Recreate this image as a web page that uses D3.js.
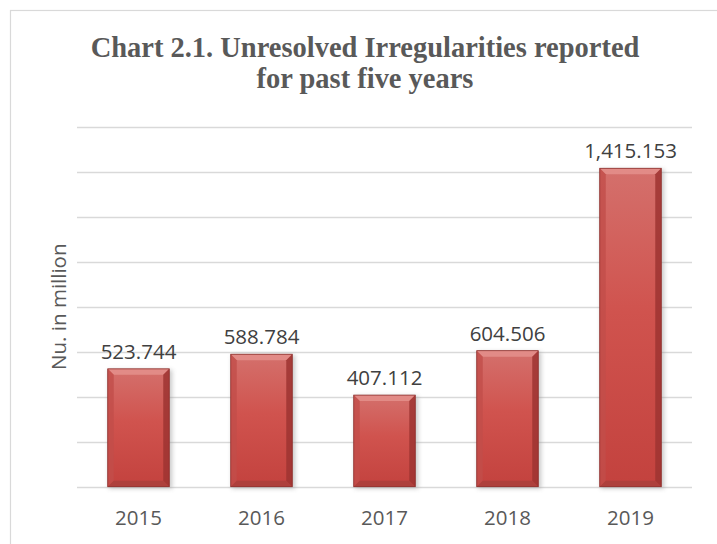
<!DOCTYPE html>
<html>
<head>
<meta charset="utf-8">
<script src="https://cdn.jsdelivr.net/npm/d3@7"></script>
<style>
  html, body { margin: 0; padding: 0; background: #fff; }
  svg { display: block; }
</style>
</head>
<body>
<svg id="chart" width="717" height="544"></svg>
<script>
const categories = ["2015", "2016", "2017", "2018", "2019"];
const values = [523.744, 588.784, 407.112, 604.506, 1415.153];
const yTicks = [0, 200, 400, 600, 800, 1000, 1200, 1400, 1600];
const titleLines = ["Chart 2.1. Unresolved Irregularities reported", "for past five years"];
const yLabel = "Nu. in million";

const svg = d3.select("#chart");
const plot = { left: 77, right: 692, top: 126.7, bottom: 486.7 };
const textColor = "#595959";
const sans = "'Open Sans', 'Liberation Sans', sans-serif";

// chart area border
svg.append("rect").attr("x", 10.5).attr("y", 10.5).attr("width", 740).attr("height", 560)
  .attr("fill", "#fff").attr("stroke", "#d9d9d9").attr("stroke-width", 1.2);

const defs = svg.append("defs");
const face = defs.append("linearGradient").attr("id", "face").attr("x1", 0).attr("y1", 0).attr("x2", 0).attr("y2", 1);
face.append("stop").attr("offset", "0%").attr("stop-color", "#d4706c");
face.append("stop").attr("offset", "45%").attr("stop-color", "#d0534e");
face.append("stop").attr("offset", "100%").attr("stop-color", "#c3423e");
const shadow = defs.append("filter").attr("id", "shadow").attr("x", "-30%").attr("y", "-10%").attr("width", "160%").attr("height", "130%");
shadow.append("feGaussianBlur").attr("stdDeviation", 2.2);

const x = d3.scaleBand().domain(categories).range([plot.left, plot.right]).paddingInner(0.5).paddingOuter(0.25);
const y = d3.scaleLinear().domain([0, 1600]).range([plot.bottom, plot.top]);

// gridlines
svg.append("g").selectAll("line").data(yTicks).join("line")
  .attr("x1", plot.left).attr("x2", plot.right)
  .attr("y1", d => Math.round(y(d)) + 0.5).attr("y2", d => Math.round(y(d)) + 0.5)
  .attr("stroke", "#d9d9d9").attr("stroke-width", 1.3);

// bars
const data = categories.map((c, i) => ({ c, v: values[i] }));
const bars = svg.append("g").selectAll("g").data(data).join("g");
const b = 6;
bars.each(function(d) {
  const g = d3.select(this);
  const x0 = x(d.c), w = x.bandwidth(), y0 = y(d.v), h = y(0) - y(d.v);
  g.append("rect").attr("x", x0 + 1).attr("y", y0 + 1).attr("width", w + 2).attr("height", h + 1)
    .attr("fill", "#8a8a8a").attr("opacity", 0.45).attr("filter", "url(#shadow)");
  g.append("rect").attr("x", x0).attr("y", y0).attr("width", w).attr("height", h).attr("fill", "url(#face)");
  const poly = pts => g.append("polygon").attr("points", pts.map(p => p.join(",")).join(" "));
  poly([[x0, y0], [x0 + w, y0], [x0 + w - b, y0 + b], [x0 + b, y0 + b]]).attr("fill", "#e4908c").attr("opacity", 0.85);
  poly([[x0, y0], [x0 + b, y0 + b], [x0 + b, y0 + h - b], [x0, y0 + h]]).attr("fill", "#c24e4a").attr("opacity", 0.8);
  poly([[x0 + w, y0], [x0 + w, y0 + h], [x0 + w - b, y0 + h - b], [x0 + w - b, y0 + b]]).attr("fill", "#9e3431").attr("opacity", 0.85);
  poly([[x0, y0 + h], [x0 + w, y0 + h], [x0 + w - b, y0 + h - b], [x0 + b, y0 + h - b]]).attr("fill", "#a9403c").attr("opacity", 0.8);
  g.append("rect").attr("x", x0).attr("y", y0).attr("width", w).attr("height", h)
    .attr("fill", "none").attr("stroke", "#8a2d2a").attr("stroke-width", 0.8);
});

// value labels
const fmt = d3.format(",.3f");
svg.append("g").selectAll("text").data(data).join("text")
  .attr("x", d => x(d.c) + x.bandwidth() / 2)
  .attr("y", d => y(d.v) - 10)
  .attr("text-anchor", "middle")
  .attr("font-family", sans).attr("font-size", 20.5).attr("fill", "#404040")
  .text(d => fmt(d.v));

// x axis labels
const xAxis = svg.append("g").attr("transform", `translate(0,${plot.bottom})`)
  .call(d3.axisBottom(x).tickSize(0).tickPadding(0));
xAxis.select(".domain").remove();
xAxis.selectAll("text").attr("dy", null).attr("y", 38)
  .attr("font-family", sans).attr("font-size", 20.5).attr("fill", textColor);

// y axis title
svg.append("text")
  .attr("transform", `translate(66,${(plot.top + plot.bottom) / 2}) rotate(-90)`)
  .attr("text-anchor", "middle")
  .attr("font-family", sans).attr("font-size", 20.5).attr("fill", textColor)
  .text(yLabel);

// title
const tl = svg.append("g").selectAll("text").data(titleLines).join("text")
  .attr("x", 365).attr("y", (d, i) => 57 + i * 31)
  .attr("text-anchor", "middle")
  .attr("font-family", "'Liberation Serif', 'DejaVu Serif', serif").attr("font-weight", "bold")
  .attr("font-size", 20).attr("fill", textColor)
  .text(d => d);
const w0 = tl.nodes()[0].getComputedTextLength();
tl.attr("font-size", 20 * 549 / w0);
</script>
</body>
</html>
